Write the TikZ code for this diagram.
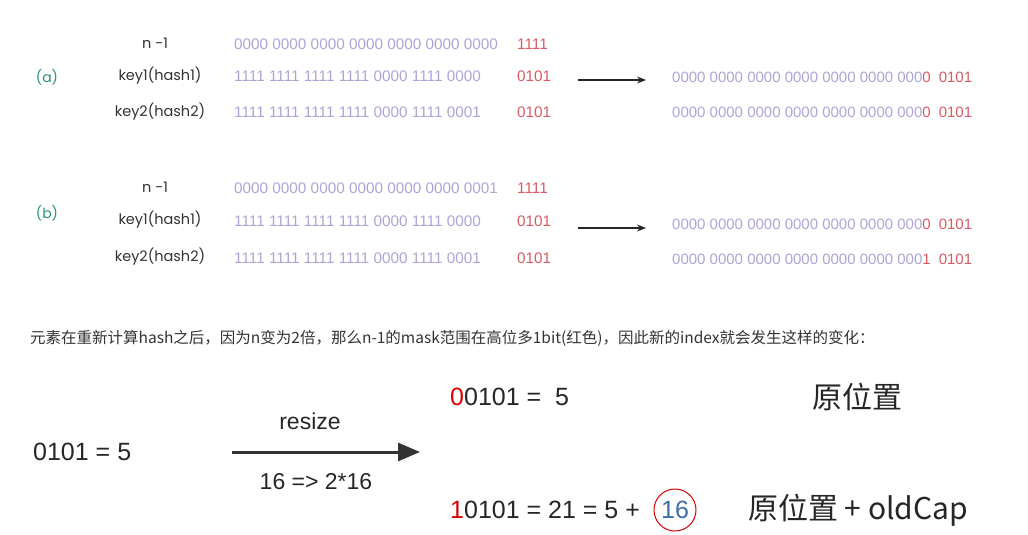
\documentclass[tikz,border=0pt]{standalone}
\usepackage{fontspec}
\setmainfont{Poppins}
\newfontfamily\cjk{Noto Sans CJK SC}
\newfontfamily\lib{Liberation Sans}
\usetikzlibrary{arrows.meta}
\definecolor{bits}{RGB}{170,165,215}
\definecolor{redbits}{RGB}{215,90,100}
\definecolor{grn}{RGB}{40,150,110}
\definecolor{bl}{RGB}{60,110,170}
\begin{document}
\begin{tikzpicture}[x=1pt,y=-1pt,
  lab/.style={font=\fontsize{14.5}{15}\selectfont, text=black!80},
  bit/.style={font=\lib\fontsize{15.3}{16}\selectfont, text=bits, anchor=west, inner sep=0},
  bitr/.style={font=\lib\fontsize{15}{16}\selectfont, text=bits, anchor=west, inner sep=0},
  rbit/.style={font=\lib\fontsize{15.3}{16}\selectfont, text=redbits, anchor=west, inner sep=0},
  tag/.style={font=\fontsize{14}{14}\selectfont, text=grn},
  arr/.style={-{Stealth[length=9pt,width=7pt]}, line width=1.2pt, black!85},
  big/.style={font=\lib\fontsize{25}{25}\selectfont, text=black!85, anchor=west, inner sep=0},
  cn/.style={font=\cjk\fontsize{30}{30}\selectfont, text=black!85, anchor=west, inner sep=0}]
\useasboundingbox (0,0) rectangle (1028,535);
% (a)
\node[tag] (ta) at (47,77) {(a)};
\node[lab] (a0) at (155,43) {n -1};
\node[lab] (a1) at (160,76) {key1(hash1)};
\node[lab] (a2) at (160,112) {key2(hash2)};
\node[bit] (ab0) at (234,44) {0000 0000 0000 0000 0000 0000 0000};
\node[rbit] (ar0) at (517,44) {1111};
\node[bit] (ab1) at (234,76) {1111 1111 1111 1111 0000 1111 0000};
\node[rbit] (ar1) at (517,76) {0101};
\node[bit] (ab2) at (234,112) {1111 1111 1111 1111 0000 1111 0001};
\node[rbit] (ar2) at (517,112) {0101};
\coordinate (as) at (578,80); \coordinate (ae) at (646,80);
\draw[arr] (as) -- (ae);
\node[bitr] (ac1) at (672,77) {0000 0000 0000 0000 0000 0000 000\textcolor{redbits}{0}\hspace{8pt}\textcolor{redbits}{0101}};
\node[bitr] (ac2) at (672,112) {0000 0000 0000 0000 0000 0000 000\textcolor{redbits}{0}\hspace{8pt}\textcolor{redbits}{0101}};
% (b)
\node[tag] (tb) at (47,213) {(b)};
\node[lab] (b0) at (155,187) {n -1};
\node[lab] (b1) at (160,220) {key1(hash1)};
\node[lab] (b2) at (160,257) {key2(hash2)};
\node[bit] (bb0) at (234,188) {0000 0000 0000 0000 0000 0000 0001};
\node[rbit] (br0) at (517,188) {1111};
\node[bit] (bb1) at (234,221) {1111 1111 1111 1111 0000 1111 0000};
\node[rbit] (br1) at (517,221) {0101};
\node[bit] (bb2) at (234,258) {1111 1111 1111 1111 0000 1111 0001};
\node[rbit] (br2) at (517,258) {0101};
\coordinate (bs) at (578,228); \coordinate (be) at (646,228);
\draw[arr] (bs) -- (be);
\node[bitr] (bc1) at (672,224) {0000 0000 0000 0000 0000 0000 000\textcolor{redbits}{0}\hspace{8pt}\textcolor{redbits}{0101}};
\node[bitr] (bc2) at (672,259) {0000 0000 0000 0000 0000 0000 000\textcolor{redbits}{1}\hspace{8pt}\textcolor{redbits}{0101}};
% sentence
\node[anchor=west, inner sep=0, font=\cjk\fontsize{15.5}{16}\selectfont, text=black!80] (s) at (30,338) {元素在重新计算hash之后，因为n变为2倍，那么n-1的mask范围在高位多1bit(红色)，因此新的index就会发生这样的变化：};
% bottom
\node[big] (l) at (33,452) {0101 = 5};
\coordinate (rs) at (232,452); \coordinate (re) at (420,452);
\draw[-{Triangle[length=22pt,width=18pt]}, line width=3pt, black!80] (rs) -- (re);
\node[font=\lib\fontsize{23}{23}\selectfont, text=black!85] (rz) at (310,421) {resize};
\node[font=\lib\fontsize{23}{23}\selectfont, text=black!85] (rd) at (316,482) {16 => 2*16};
\node[big] (r1) at (450,397) {\textcolor{red!85!black}{0}0101 =\ \ 5};
\node[cn] (c1) at (812,397) {原位置};
\node[big] (r2) at (450,510) {\textcolor{red!85!black}{1}0101 = 21 = 5 +};
\node[font=\lib\fontsize{25}{25}\selectfont, text=bl, draw=red!85!black, line width=1pt, circle, minimum size=42pt, inner sep=0] (c16) at (675,510) {16};
\node[cn] (c2) at (748,510) {原位置 + oldCap};
\end{tikzpicture}
\end{document}
